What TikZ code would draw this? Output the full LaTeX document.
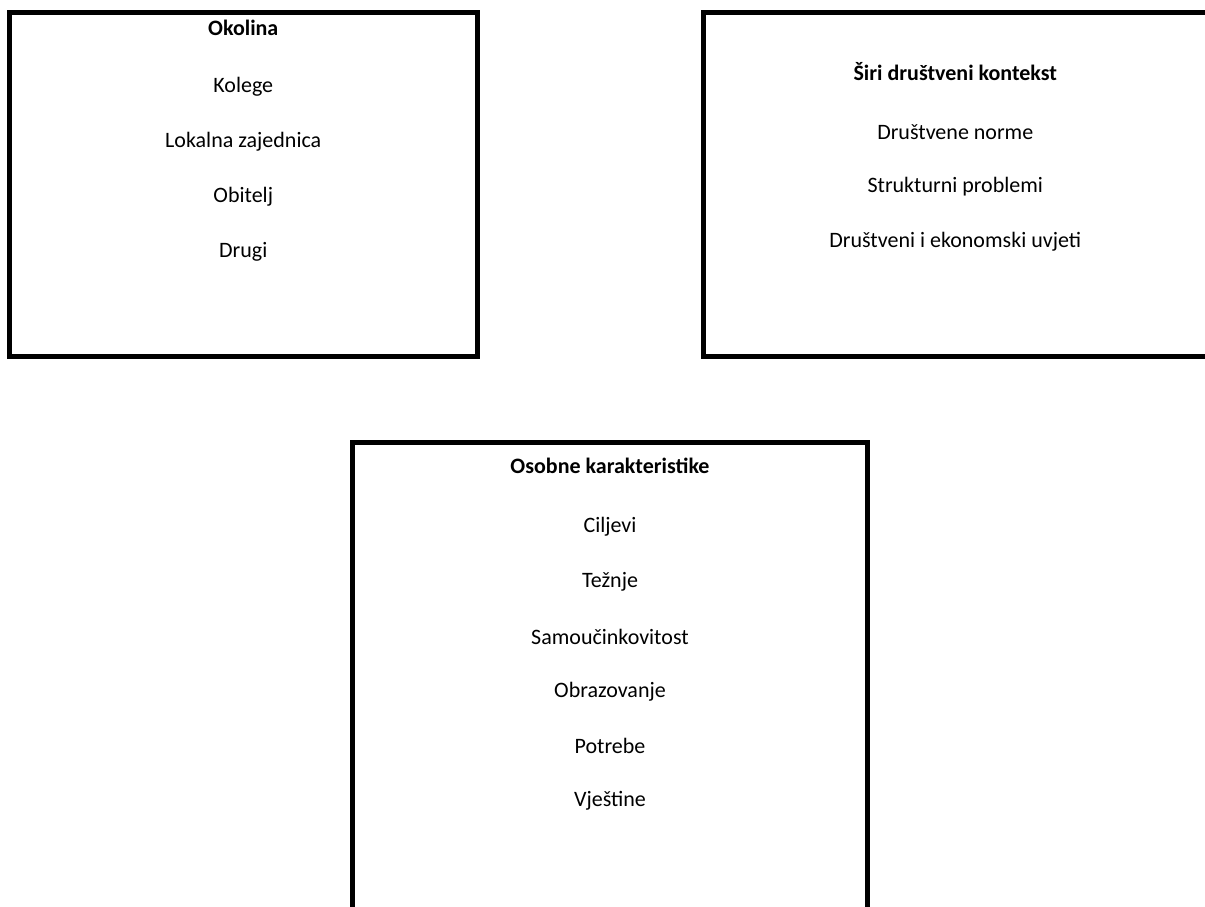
\documentclass[tikz,border=0pt]{standalone}
\usepackage{fontspec}
\setmainfont{Carlito}
\usepackage{tikz}

\begin{document}
\begin{tikzpicture}[x=0.5pt, y=-0.5pt, line width=2.5pt, font=\fontsize{11}{13}\selectfont]

    \useasboundingbox (0,0) rectangle (1205,906);

    % Left box: Okolina
    \node[draw, minimum width=233.75pt, minimum height=172pt, anchor=center] (okolina) at (243.25,184.5) {};

    % Right box: wider social context
    \node[draw, minimum width=251.75pt, minimum height=172pt, anchor=center] (kontekst) at (955.25,184.5) {};

    % Bottom box: personal characteristics
    \node[draw, minimum width=257.5pt, minimum height=258.5pt, anchor=center] (osobne) at (610,701) {};

    % Labels in the left box
    \node[font=\fontsize{11}{13}\selectfont\bfseries] (okolinaT) at (243.25,28) {Okolina};
    \node (kolege) at (243.25,87) {Kolege};
    \node (lokalna) at (243.25,142) {Lokalna zajednica};
    \node (obitelj) at (243.25,197) {Obitelj};
    \node (drugi) at (243.25,252) {Drugi};

    % Labels in the right box
    \node[font=\fontsize{11}{13}\selectfont\bfseries] (kontekstT) at (955.25,72) {Širi društveni kontekst};
    \node (norme) at (955.25,132) {Društvene norme};
    \node (problemi) at (955.25,187) {Strukturni problemi};
    \node (uvjeti) at (955.25,242) {Društveni i ekonomski uvjeti};

    % Labels in the bottom box
    \node[font=\fontsize{11}{13}\selectfont\bfseries] (osobneT) at (610,466) {Osobne karakteristike};
    \node (ciljevi) at (610,527) {Ciljevi};
    \node (teznje) at (610,582) {Težnje};
    \node (samo) at (610,637) {Samoučinkovitost};
    \node (obraz) at (610,692) {Obrazovanje};
    \node (potrebe) at (610,746) {Potrebe};
    \node (vjestine) at (610,801) {Vještine};

\end{tikzpicture}
\end{document}
